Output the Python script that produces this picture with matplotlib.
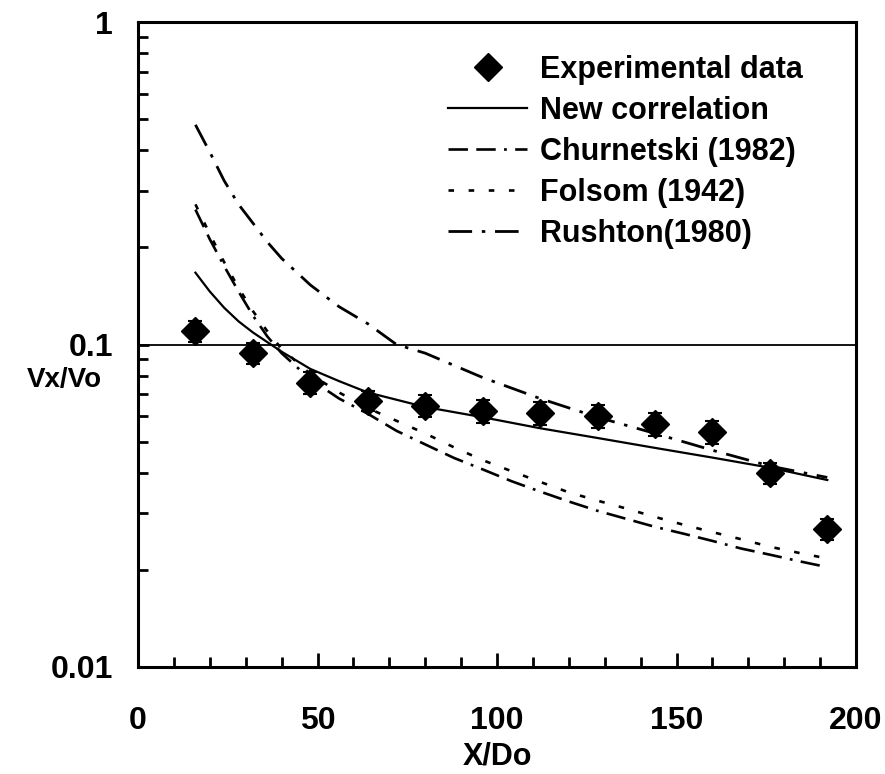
import numpy as np
import matplotlib
matplotlib.use("Agg")
import matplotlib.pyplot as plt
from matplotlib.ticker import FixedLocator, NullFormatter, FixedFormatter

plt.rcParams['font.family'] = ['Liberation Sans', 'DejaVu Sans']
plt.rcParams['lines.scale_dashes'] = False

# experimental points (X/Do, Vx/Vo) with error
x_exp = [16, 32, 48, 64, 80, 96, 112, 128, 144, 160, 176, 192]
v_exp = [0.110, 0.094, 0.076, 0.067, 0.0645, 0.0622, 0.0613, 0.060, 0.0567, 0.0535, 0.040, 0.0268]
v_err = [0.008, 0.007, 0.006, 0.005, 0.005, 0.005, 0.005, 0.005, 0.0045, 0.0045, 0.003, 0.002]

# correlation curves
x_new = [16, 20, 24, 28, 32, 40, 48, 56, 64, 80, 96, 112, 128, 144, 160, 176, 192]
v_new = [0.167, 0.146, 0.130, 0.118, 0.109, 0.095, 0.084, 0.077, 0.071, 0.064,
         0.0595, 0.055, 0.0513, 0.0478, 0.0446, 0.0415, 0.038]

x_low = [16, 20, 24, 28, 32, 36, 40, 48, 56, 64, 72, 80, 88, 96, 104, 112, 120,
         128, 136, 144, 152, 160, 168, 176, 184, 192]
v_churn = [0.262, 0.212, 0.175, 0.146, 0.123, 0.106, 0.094, 0.078, 0.068, 0.061,
           0.054, 0.049, 0.0445, 0.041, 0.0377, 0.035, 0.0326, 0.0305, 0.0288,
           0.0272, 0.0259, 0.0246, 0.0233, 0.0223, 0.0213, 0.0204]
v_folsom = [0.272, 0.220, 0.180, 0.150, 0.127, 0.110, 0.097, 0.081, 0.071, 0.0635,
            0.058, 0.053, 0.048, 0.0438, 0.0405, 0.0375, 0.0348, 0.0328, 0.031,
            0.0292, 0.0276, 0.0262, 0.0249, 0.0236, 0.0226, 0.0217]

x_rush = [16, 20, 24, 28, 32, 36, 40, 48, 56, 64, 72, 80, 96, 112, 128, 144, 160, 176, 192]
v_rush = [0.48, 0.395, 0.322, 0.272, 0.238, 0.208, 0.185, 0.153, 0.131, 0.116,
          0.100, 0.094, 0.079, 0.068, 0.0595, 0.053, 0.047, 0.042, 0.0387]

fig = plt.figure(figsize=(8.85, 7.74), dpi=100)
ax = fig.add_axes([138 / 885, 1 - 667 / 774, 718 / 885, 645 / 774])

ax.axhline(0.1, color='black', lw=1.3, zorder=1)

ax.errorbar(x_exp, v_exp, yerr=v_err, fmt='none', ecolor='black', elinewidth=1.5,
            capsize=5, capthick=1.5, zorder=3)
ax.plot(x_exp, v_exp, 'D', color='black', markersize=14, label='Experimental data', zorder=4)
ax.plot(x_new, v_new, color='black', lw=1.6, label='New correlation')
ax.plot(x_low, v_churn, color='black', lw=1.9, dashes=(14, 6, 14, 6, 2, 6),
        label='Churnetski (1982)')
ax.plot(x_low, v_folsom, color='black', lw=1.9, dashes=(4, 10.5), label='Folsom (1942)')
ax.plot(x_rush, v_rush, color='black', lw=2.0, dashes=(17, 7, 2.5, 7), label='Rushton(1980)')

ax.set_yscale('log')
ax.set_xlim(0, 200)
ax.set_ylim(0.01, 1)

ax.xaxis.set_major_locator(FixedLocator([0, 50, 100, 150, 200]))
ax.xaxis.set_minor_locator(FixedLocator(range(10, 200, 10)))
ax.yaxis.set_major_locator(FixedLocator([0.01, 0.1, 1]))
ax.yaxis.set_major_formatter(FixedFormatter(['0.01', '0.1', '1']))
minors = [m * d for d in (0.01, 0.1) for m in range(2, 10)]
ax.yaxis.set_minor_locator(FixedLocator(minors))
ax.yaxis.set_minor_formatter(NullFormatter())

ax.tick_params(axis='x', which='major', direction='in', length=10, width=2,
               pad=28, labelsize=23, top=False)
ax.tick_params(axis='x', which='minor', direction='in', length=7, width=2, top=False)
ax.tick_params(axis='y', which='major', direction='in', length=8, width=2,
               pad=18, labelsize=23, right=False)
ax.tick_params(axis='y', which='minor', direction='in', length=7, width=2, right=False)
for lab in ax.get_xticklabels() + ax.get_yticklabels():
    lab.set_fontweight('bold')

for s in ax.spines.values():
    s.set_linewidth(2.2)

ax.set_xlabel('X/Do', fontsize=22, fontweight='bold', labelpad=4)
ax.text(-0.102, 0.445, 'Vx/Vo', transform=ax.transAxes, fontsize=20,
        fontweight='bold', ha='center', va='center')

leg = ax.legend(loc='upper left', bbox_to_anchor=(448 / 885, 1 - 55 / 774),
                bbox_transform=fig.transFigure, frameon=False, handlelength=2.6,
                handletextpad=0.4, labelspacing=0.36, borderpad=0, borderaxespad=0,
                prop={'size': 22, 'weight': 'bold'})

fig.savefig('out.png', dpi=100)
